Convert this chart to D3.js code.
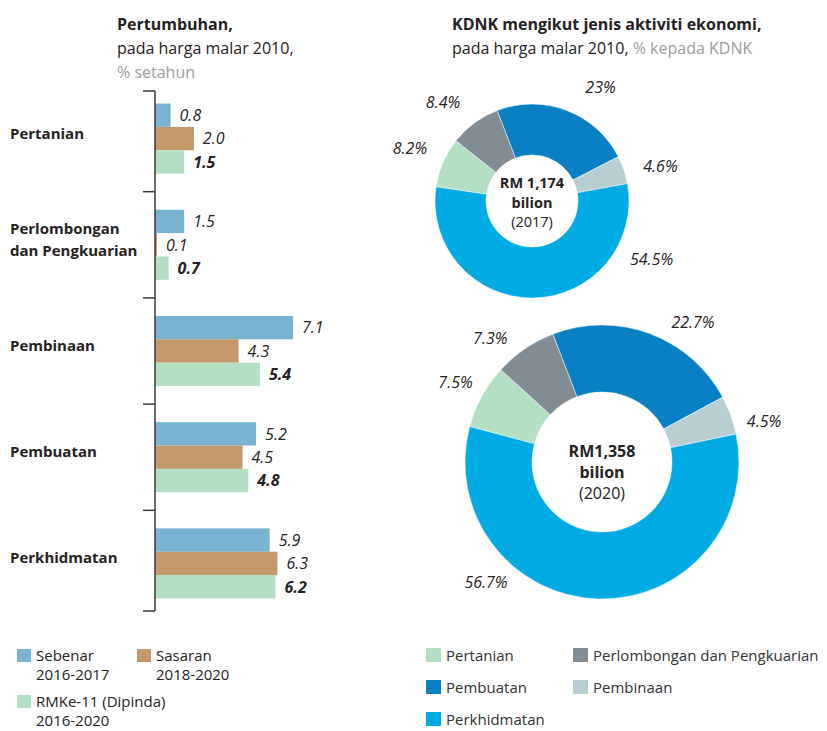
<!DOCTYPE html>
<html>
<head>
<meta charset="utf-8">
<script src="https://cdn.jsdelivr.net/npm/d3@7"></script>
<style>
  body { margin: 0; background: #fff; }
  svg { display: block; font-family: "Open Sans", "Noto Sans", sans-serif; }
</style>
</head>
<body>
<svg id="chart" width="827" height="731"></svg>
<script>
// --- data: pertumbuhan (% setahun)
const categories = ["Pertanian", "Perlombongan dan Pengkuarian", "Pembinaan", "Pembuatan", "Perkhidmatan"];
const categoryLines = [["Pertanian"], ["Perlombongan", "dan Pengkuarian"], ["Pembinaan"], ["Pembuatan"], ["Perkhidmatan"]];
const seriesKeys = ["sebenar", "sasaran", "rmke11"];
const seriesLabels = [["Sebenar", "2016-2017"], ["Sasaran", "2018-2020"], ["RMKe-11 (Dipinda)", "2016-2020"]];
const sebenar = [0.8, 1.5, 7.1, 5.2, 5.9];
const sasaran = [2.0, 0.1, 4.3, 4.5, 6.3];
const rmke11 = [1.5, 0.7, 5.4, 4.8, 6.2];

// --- data: KDNK mengikut jenis aktiviti (% kepada KDNK)
const sectors = ["Pertanian", "Perlombongan dan Pengkuarian", "Pembuatan", "Pembinaan", "Perkhidmatan"];
const pieOrder = ["Pembuatan", "Pembinaan", "Perkhidmatan", "Pertanian", "Perlombongan dan Pengkuarian"];
const share2017 = [8.2, 8.4, 23, 4.6, 54.5];
const share2020 = [7.5, 7.3, 22.7, 4.5, 56.7];
const centre2017 = ["RM 1,174", "bilion", "(2017)"];
const centre2020 = ["RM1,358", "bilion", "(2020)"];

const barColors = ["#78b4d1", "#c4986a", "#b3dfc3"];
const sectorColors = {
  "Pertanian": "#b3dfc3",
  "Perlombongan dan Pengkuarian": "#818c94",
  "Pembuatan": "#0a80c4",
  "Pembinaan": "#b9ced3",
  "Perkhidmatan": "#00aae3"
};
const dark = "#262223";
const grey = "#9d9d9d";

const svg = d3.select("#chart");

// ---------- titles
const addTitle = (x, lines, anchor) => {
  const t = svg.append("g");
  lines.forEach((l, i) => {
    const txt = t.append("text")
      .attr("x", x)
      .attr("y", 30 + i * 24)
      .attr("text-anchor", anchor)
      .attr("font-size", 16)
      .attr("fill", dark);
    l.forEach(part => {
      txt.append("tspan")
        .attr("font-weight", part.bold ? 700 : 400)
        .attr("fill", part.grey ? grey : dark)
        .text(part.t);
    });
  });
};

addTitle(117, [
  [{ t: "Pertumbuhan,", bold: true }],
  [{ t: "pada harga malar 2010," }],
  [{ t: "% setahun", grey: true }]
], "start");

addTitle(452, [
  [{ t: "KDNK mengikut jenis aktiviti ekonomi,", bold: true }],
  [{ t: "pada harga malar 2010, " }, { t: "% kepada KDNK", grey: true }]
], "start");

// ---------- bar chart
const barData = categories.map((c, i) => ({
  cat: c,
  lines: categoryLines[i],
  sebenar: sebenar[i],
  sasaran: sasaran[i],
  rmke11: rmke11[i]
}));

const axisX = 155;
const axisTop = 91, axisBottom = 611;

const y0 = d3.scaleBand()
  .domain(categories)
  .range([axisTop, axisBottom])
  .paddingInner(0.34)
  .paddingOuter(0.118);

const y1 = d3.scaleBand()
  .domain(seriesKeys)
  .range([0, y0.bandwidth()]);

const x = d3.scaleLinear()
  .domain([0, 7.1])
  .range([axisX, 293]);

const bars = svg.append("g");

const groups = bars.selectAll("g.grp")
  .data(barData)
  .enter()
  .append("g")
  .attr("class", "grp")
  .attr("transform", d => `translate(0, ${y0(d.cat)})`);

groups.selectAll("rect")
  .data(d => seriesKeys.map(k => ({ key: k, value: d[k] })))
  .enter()
  .append("rect")
  .attr("x", x(0))
  .attr("y", d => y1(d.key))
  .attr("width", d => x(d.value) - x(0))
  .attr("height", y1.bandwidth())
  .attr("fill", (d, i) => barColors[i]);

groups.selectAll("text.val")
  .data(d => seriesKeys.map(k => ({ key: k, value: d[k] })))
  .enter()
  .append("text")
  .attr("class", "val")
  .attr("x", d => x(d.value) + 9)
  .attr("y", d => y1(d.key) + y1.bandwidth() / 2)
  .attr("dy", "0.36em")
  .attr("font-size", 16)
  .attr("font-style", "italic")
  .attr("font-weight", d => d.key === "rmke11" ? 700 : 400)
  .attr("fill", dark)
  .text(d => d3.format(".1f")(d.value));

// category labels
groups.append("text")
  .attr("x", 10)
  .attr("y", d => y0.bandwidth() / 2 - (d.lines.length - 1) * 11)
  .attr("dy", "0.1em")
  .attr("font-size", 15)
  .attr("font-weight", 700)
  .attr("fill", dark)
  .selectAll("tspan")
  .data(d => d.lines)
  .enter()
  .append("tspan")
  .attr("x", 10)
  .attr("dy", (d, i) => i === 0 ? 0 : 22)
  .text(d => d);

// axis line with separators between groups
const step = y0.step();
const sepY = [axisTop].concat(categories.slice(1).map(c => y0(c) - step * y0.paddingInner() / 2)).concat([axisBottom]);

const axisG = svg.append("g")
  .attr("stroke", "#3a3a3a")
  .attr("stroke-width", 1.5)
  .attr("fill", "none");

axisG.append("line")
  .attr("x1", axisX).attr("x2", axisX)
  .attr("y1", axisTop).attr("y2", axisBottom);

axisG.selectAll("line.sep")
  .data(sepY)
  .enter()
  .append("line")
  .attr("class", "sep")
  .attr("x1", axisX - 12).attr("x2", axisX)
  .attr("y1", d => d).attr("y2", d => d);

// bar legend
const barLegendPos = [[17, 649], [137, 649], [17, 695]];
const barLegend = svg.append("g");
seriesLabels.forEach((lab, i) => {
  const [lx, ly] = barLegendPos[i];
  barLegend.append("rect")
    .attr("x", lx).attr("y", ly)
    .attr("width", 14).attr("height", 13)
    .attr("fill", barColors[i]);
  const t = barLegend.append("text")
    .attr("font-size", 15)
    .attr("fill", dark);
  lab.forEach((l, j) => {
    t.append("tspan")
      .attr("x", lx + 19)
      .attr("y", ly + 12 + j * 19)
      .text(l);
  });
});

// ---------- donuts
const pie = d3.pie()
  .value(d => d.value)
  .sort((a, b) => pieOrder.indexOf(a.name) - pieOrder.indexOf(b.name))
  .startAngle(-21 * Math.PI / 180)
  .endAngle(-21 * Math.PI / 180 + 2 * Math.PI);

const drawDonut = (values, centreLines, cfg) => {
  const data = sectors.map((s, i) => ({ name: s, value: values[i] }));
  const arcs = pie(data);
  const arc = d3.arc().innerRadius(cfg.inner).outerRadius(cfg.outer);

  const g = svg.append("g")
    .attr("transform", `translate(${cfg.cx}, ${cfg.cy})`);

  g.selectAll("path")
    .data(arcs)
    .enter()
    .append("path")
    .attr("d", arc)
    .attr("fill", d => sectorColors[d.data.name])
    .attr("stroke", "#fff")
    .attr("stroke-width", 0.5);

  const labR = cfg.outer + cfg.labelPad;
  g.selectAll("text.pct")
    .data(arcs)
    .enter()
    .append("text")
    .attr("class", "pct")
    .attr("transform", d => {
      const deg = cfg.labelAngle[d.data.name];
      const a = deg !== undefined ? deg * Math.PI / 180 : (d.startAngle + d.endAngle) / 2;
      return `translate(${Math.sin(a) * labR}, ${-Math.cos(a) * labR})`;
    })
    .attr("dy", "0.36em")
    .attr("text-anchor", "middle")
    .attr("font-size", 16)
    .attr("font-style", "italic")
    .attr("fill", dark)
    .text(d => d.data.value + "%");

  centreLines.forEach((l, i) => {
    g.append("text")
      .attr("x", 0)
      .attr("y", cfg.textTop + i * cfg.lineH)
      .attr("text-anchor", "middle")
      .attr("font-size", cfg.textSize)
      .attr("font-weight", i < 2 ? 700 : 400)
      .attr("fill", dark)
      .text(l);
  });
};

drawDonut(share2017, centre2017, {
  cx: 532, cy: 201, outer: 97, inner: 46, labelPad: 36, textTop: -13, lineH: 19.5, textSize: 14.5,
  labelAngle: { "Pembuatan": 31, "Perkhidmatan": 116, "Perlombongan dan Pengkuarian": -42, "Pembinaan": 75 }
});

drawDonut(share2020, centre2020, {
  cx: 602, cy: 462, outer: 137, inner: 70, labelPad: 30, textTop: -5, lineH: 21, textSize: 16,
  labelAngle: { "Pembuatan": 33, "Perkhidmatan": 224, "Perlombongan dan Pengkuarian": -42, "Pembinaan": 76 }
});

// sector legend
const legR = svg.append("g");
sectors.forEach((s, i) => {
  const col = i % 2, row = Math.floor(i / 2);
  const lx = col === 0 ? 426 : 573;
  const ly = 648 + row * 32;
  legR.append("rect")
    .attr("x", lx).attr("y", ly)
    .attr("width", 15).attr("height", 14)
    .attr("fill", sectorColors[s]);
  legR.append("text")
    .attr("x", lx + 20)
    .attr("y", ly + 13)
    .attr("font-size", 15)
    .attr("fill", "#333")
    .text(s);
});
</script>
</body>
</html>
